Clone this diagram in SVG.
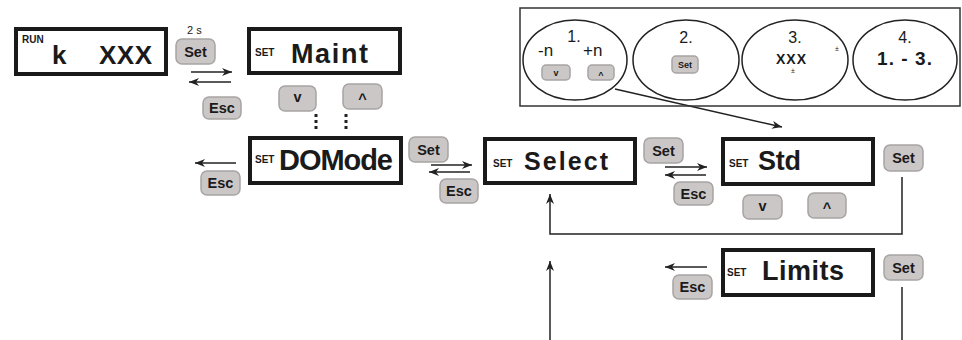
<svg xmlns="http://www.w3.org/2000/svg" width="962" height="340" viewBox="0 0 962 340">
<defs>
<style>
text{font-family:"Liberation Sans",Arial,sans-serif;fill:#1a1a1a}
.box{fill:#fff;stroke:#1a1a1a;stroke-width:4}
.btn{fill:#cbc7c7;stroke:#a8a4a4;stroke-width:1.5}
.bt{font-size:14.5px;font-weight:bold;text-anchor:middle}
.sbt{font-size:9px;font-weight:bold;text-anchor:middle}
.set{font-size:10px;font-weight:bold}
.big{font-weight:bold;font-size:27px}
.ln{fill:none;stroke:#222;stroke-width:1.5}
.dot{fill:none;stroke:#222;stroke-width:3;stroke-dasharray:3 3}
.el{fill:none;stroke:#222;stroke-width:1.5}
.lab{font-size:16px;text-anchor:middle}
</style>
<marker id="ah" viewBox="0 0 10 8" refX="10" refY="4" markerWidth="10" markerHeight="8" markerUnits="userSpaceOnUse" orient="auto">
<path d="M0,0 L10,4 L0,8 L3,4 Z" fill="#222"/>
</marker>
</defs>

<g id="connectors">
<line class="ln" x1="191" y1="72" x2="232" y2="72" marker-end="url(#ah)"/>
<line class="ln" x1="231" y1="82" x2="189" y2="82" marker-end="url(#ah)"/>
<line class="dot" x1="316" y1="114" x2="316" y2="129"/>
<line class="dot" x1="346" y1="114" x2="346" y2="129"/>
<line class="ln" x1="236" y1="163" x2="195" y2="163" marker-end="url(#ah)"/>
<line class="ln" x1="431" y1="165" x2="472" y2="165" marker-end="url(#ah)"/>
<line class="ln" x1="470" y1="172" x2="429" y2="172" marker-end="url(#ah)"/>
<line class="ln" x1="665" y1="167" x2="707" y2="167" marker-end="url(#ah)"/>
<line class="ln" x1="706" y1="175" x2="665" y2="175" marker-end="url(#ah)"/>
<line class="ln" x1="707" y1="267" x2="665" y2="267" marker-end="url(#ah)"/>
<path class="ln" d="M902,177 V234 H550 V194" marker-end="url(#ah)"/>
<path class="ln" d="M550,340 V261" marker-end="url(#ah)"/>
<path class="ln" d="M902,287 V340"/>
<line class="ln" x1="615" y1="89" x2="782" y2="127" marker-end="url(#ah)"/>
</g>

<g id="run">
<rect class="box" x="16" y="29" width="150" height="45"/>
<text x="22" y="43" style="font-size:10px;font-weight:bold">RUN</text>
<text x="52" y="64" style="font-size:26px;font-weight:bold">k</text>
<text x="99" y="64" style="font-size:26px;font-weight:bold" textLength="53">XXX</text>
</g>

<g id="maint">
<rect class="box" x="249" y="29" width="151" height="44"/>
<text class="set" x="255" y="56">SET</text>
<text class="big" x="291" y="63" textLength="77">Maint</text>
</g>

<g id="domode">
<rect class="box" x="250" y="138" width="151" height="45"/>
<text class="set" x="255" y="163">SET</text>
<text class="big" x="279" y="170" style="font-size:29px" textLength="114">DOMode</text>
</g>

<g id="select">
<rect class="box" x="485" y="139" width="150" height="44"/>
<text class="set" x="493" y="167">SET</text>
<text class="big" x="524" y="170" style="font-size:25px" textLength="84">Select</text>
</g>

<g id="std">
<rect class="box" x="723" y="139" width="150" height="45"/>
<text class="set" x="729" y="167">SET</text>
<text class="big" x="758" y="170" textLength="43">Std</text>
</g>

<g id="limits">
<rect class="box" x="723" y="250" width="150" height="45"/>
<text class="set" x="727" y="276">SET</text>
<text class="big" x="762" y="280" textLength="82">Limits</text>
</g>

<g id="buttons">
<text x="187" y="34" style="font-size:11px">2 s</text>
<rect class="btn" x="176" y="39" width="39" height="25" rx="6"/><text class="bt" x="195.5" y="57">Set</text>
<rect class="btn" x="203" y="97" width="38" height="22" rx="6"/><text class="bt" x="222" y="113">Esc</text>
<rect class="btn" x="279" y="86" width="37" height="25" rx="6"/><text class="bt" x="297.5" y="102">v</text>
<rect class="btn" x="343" y="84" width="39" height="25" rx="6"/><text class="bt" x="362.5" y="104">^</text>
<rect class="btn" x="201" y="171" width="39" height="24" rx="6"/><text class="bt" x="220.5" y="188">Esc</text>
<rect class="btn" x="409" y="137" width="39" height="25" rx="6"/><text class="bt" x="428.5" y="155">Set</text>
<rect class="btn" x="440" y="179" width="38" height="24" rx="6"/><text class="bt" x="459" y="196">Esc</text>
<rect class="btn" x="644" y="138" width="39" height="25" rx="6"/><text class="bt" x="663.5" y="156">Set</text>
<rect class="btn" x="674" y="182" width="39" height="23" rx="6"/><text class="bt" x="693.5" y="199">Esc</text>
<rect class="btn" x="884" y="145" width="39" height="26" rx="6"/><text class="bt" x="903.5" y="163">Set</text>
<rect class="btn" x="743" y="195" width="39" height="24" rx="6"/><text class="bt" x="762.5" y="211">v</text>
<rect class="btn" x="808" y="193" width="38" height="25" rx="6"/><text class="bt" x="827" y="213">^</text>
<rect class="btn" x="673" y="275" width="39" height="24" rx="6"/><text class="bt" x="692.5" y="292">Esc</text>
<rect class="btn" x="884" y="255" width="39" height="25" rx="6"/><text class="bt" x="903.5" y="273">Set</text>
</g>

<g id="panel">
<rect x="520" y="8" width="440" height="98" fill="none" stroke="#333" stroke-width="1.5"/>
<ellipse class="el" cx="575" cy="60" rx="52" ry="40"/>
<ellipse class="el" cx="686" cy="60" rx="53" ry="40"/>
<ellipse class="el" cx="795" cy="60" rx="53" ry="40"/>
<ellipse class="el" cx="905" cy="60" rx="52" ry="40"/>
<text class="lab" x="574" y="42">1.</text>
<text x="538" y="56" style="font-size:17px">-n</text>
<text x="583" y="56" style="font-size:17px">+n</text>
<rect class="btn" x="542" y="65" width="28" height="15" rx="4"/><text class="sbt" x="556" y="76">v</text>
<rect class="btn" x="588" y="65" width="26" height="15" rx="4"/><text class="sbt" x="601" y="78">^</text>
<text class="lab" x="686" y="43">2.</text>
<rect class="btn" x="672" y="56" width="26" height="17" rx="4"/><text class="sbt" x="685" y="68">Set</text>
<text class="lab" x="795" y="43">3.</text>
<text x="776" y="64" style="font-size:14px;font-weight:bold" textLength="30">XXX</text>
<text x="837" y="51" style="font-size:7px;text-anchor:middle">±</text>
<text x="793" y="73" style="font-size:7px;text-anchor:middle">±</text>
<text class="lab" x="905" y="43">4.</text>
<text x="877" y="65" style="font-size:19px;font-weight:bold" textLength="55">1. - 3.</text>
</g>
</svg>
